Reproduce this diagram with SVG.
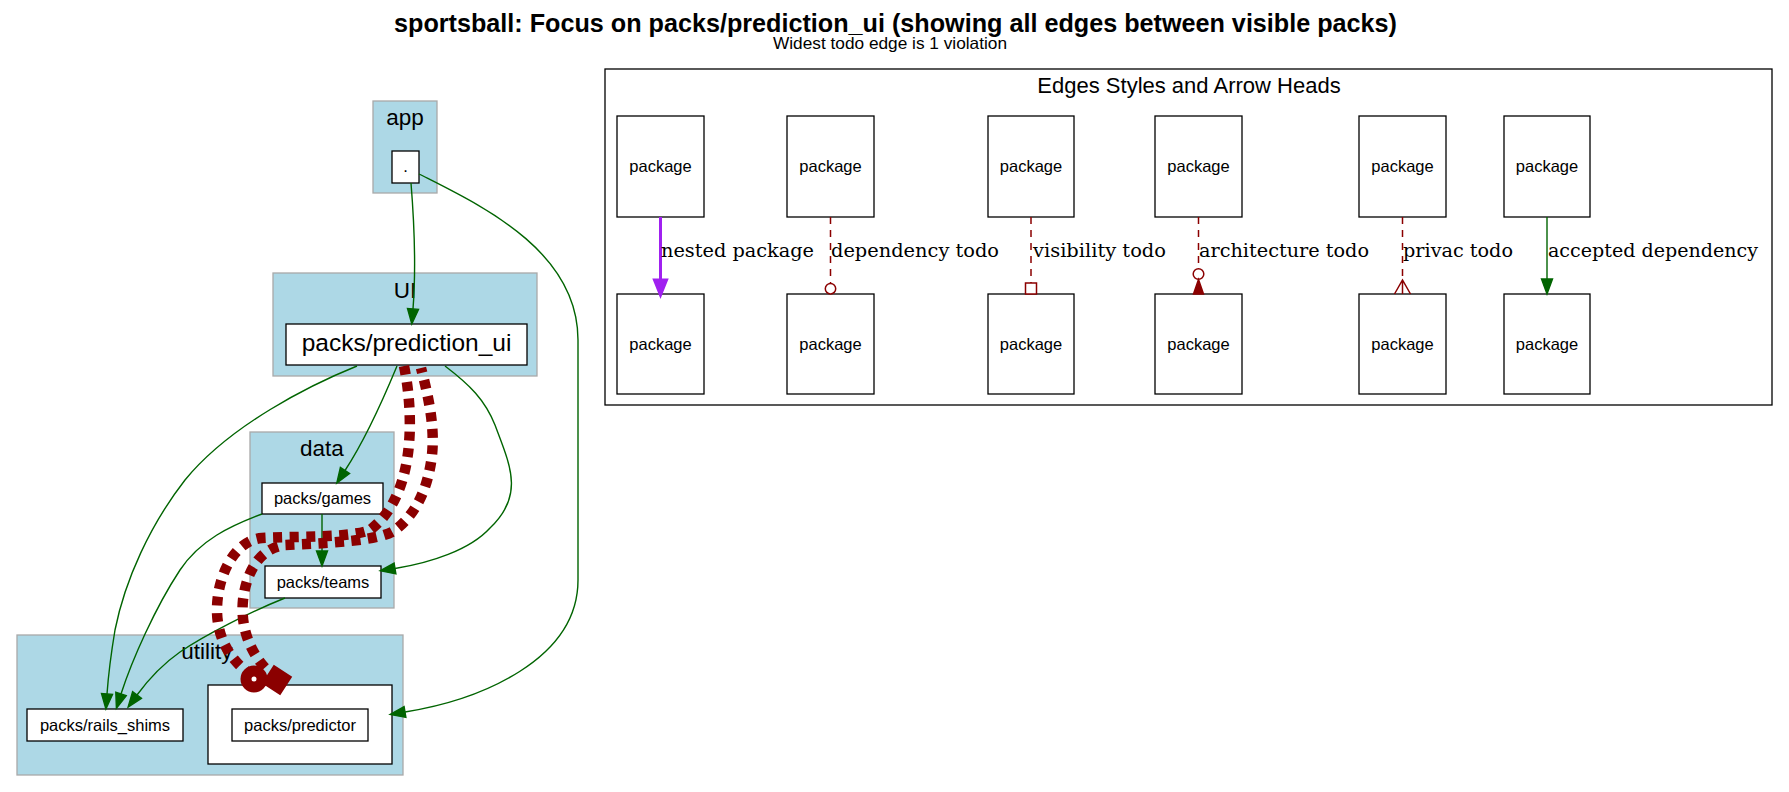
<svg xmlns="http://www.w3.org/2000/svg" width="1789" height="792" viewBox="0 0 1789 792">
<style>
.bg{fill:#ffffff}
.cl{fill:#add8e6;stroke:#a9a9a9;stroke-width:1.3}
.wbox{fill:#ffffff;stroke:#000000;stroke-width:1.3}
.node{fill:#ffffff;stroke:#000000;stroke-width:1.3}
.t{font-family:"Liberation Sans",Arial,sans-serif;fill:#000000}
.cll{font-size:22.5px;text-anchor:middle}
.nl{font-size:16.5px;text-anchor:middle}
.el{font-family:"DejaVu Serif","Liberation Serif",serif;font-size:19.4px;fill:#000000}
.g{fill:none;stroke:#006400;stroke-width:1.4}
.gh{fill:#006400;stroke:#006400;stroke-width:1.4}
.td{fill:none;stroke:#8b0000;stroke-width:1.5;stroke-dasharray:7,6}
.th{fill:#ffffff;stroke:#8b0000;stroke-width:1.5}
.thick{fill:none;stroke:#8b0000;stroke-width:10.5;stroke-dasharray:9,7.5}
</style>
<rect class="bg" x="0" y="0" width="1789" height="792"/>
<text class="t" x="394" y="32" font-size="25" font-weight="bold" textLength="1003" lengthAdjust="spacingAndGlyphs">sportsball: Focus on packs/prediction_ui (showing all edges between visible packs)</text>
<text class="t" x="773" y="49" font-size="16.5" textLength="234" lengthAdjust="spacingAndGlyphs">Widest todo edge is 1 violation</text>

<g id="cluster_app">
<rect class="cl" x="373" y="101" width="64" height="92"/>
<text class="t cll" x="405" y="125">app</text>
</g>
<g id="cluster_UI">
<rect class="cl" x="273" y="273" width="264" height="103"/>
<text class="t cll" x="405" y="298">UI</text>
</g>
<g id="cluster_data">
<rect class="cl" x="250" y="432" width="144" height="176"/>
<text class="t cll" x="322" y="456">data</text>
</g>
<g id="cluster_utility">
<rect class="cl" x="17" y="635" width="386" height="140"/>
<text class="t cll" x="207" y="659">utility</text>
<rect class="wbox" x="208" y="685" width="184" height="79"/>
</g>

<g id="node_app_root">
<rect class="node" x="392" y="151" width="27" height="32"/>
<text class="t nl" x="405.5" y="172">.</text>
</g>
<g id="node_prediction_ui">
<rect class="node" x="286" y="324" width="241" height="41"/>
<text class="t" x="406.5" y="351" font-size="24.5" text-anchor="middle">packs/prediction_ui</text>
</g>
<g id="node_games">
<rect class="node" x="262" y="483" width="121" height="31"/>
<text class="t nl" x="322.5" y="504">packs/games</text>
</g>
<g id="node_teams">
<rect class="node" x="265" y="566" width="116" height="32"/>
<text class="t nl" x="323" y="587.5">packs/teams</text>
</g>
<g id="node_rails_shims">
<rect class="node" x="27" y="709" width="156" height="32"/>
<text class="t nl" x="105" y="731">packs/rails_shims</text>
</g>
<g id="node_predictor">
<rect class="node" x="232" y="709" width="136" height="32"/>
<text class="t nl" x="300" y="731">packs/predictor</text>
</g>

<g id="connectors">
<path class="g" d="M411,183 C414,220 416,270 413,309"/>
<polygon class="gh" points="418.5,309.4 411.8,324 407.5,308.6"/>
<path class="g" d="M419,174 C480,205 578,250 578,340 L578,580 C578,660 480,700 405,712"/>
<polygon class="gh" points="405.9,717.4 390.2,714.4 404.1,706.6"/>
<path class="g" d="M397,366 C385,395 365,440 345,470.5"/>
<polygon class="gh" points="349.6,473.5 336.8,483 340.4,467.5"/>
<path class="g" d="M445,366 C470,385 485,400 495,425 C510,465 525,495 490,528 C470,550 430,563 395,568.5"/>
<polygon class="gh" points="395.9,573.9 380.2,570.8 394.1,563.1"/>
<path class="g" d="M357,366 C310,385 230,425 185,480 C150,525 125,580 115,630 C110,660 108,680 107,694"/>
<polygon class="gh" points="112.5,694.4 105.9,709 101.5,693.6"/>
<path class="g" d="M262,514 C230,526 200,540 180,570 C155,608 132,660 121,694"/>
<polygon class="gh" points="126.2,695.7 116.4,708.3 115.8,692.3"/>
<path class="g" d="M285,598 C250,612 205,635 180,652 C160,666 148,680 137,695"/>
<polygon class="gh" points="141.4,698.3 128.1,707.1 132.6,691.7"/>
<path class="g" d="M322,514 L322,551"/>
<polygon class="gh" points="327.5,551 322,566 316.5,551"/>

<path class="thick" d="M404,366 C410,395 412,430 407,460 C402,490 390,515 370,530 C350,538 300,536 262,538 C235,540 217,575 217,610 C217,640 232,660 246,671"/>
<circle cx="254" cy="679" r="8" fill="#ffffff" stroke="#8b0000" stroke-width="11"/>
<path class="thick" stroke-dashoffset="4" d="M421,368 C428,395 435,425 432,455 C428,490 415,515 395,530 C380,541 330,543 285,545 C262,548 247,568 243,600 C240,630 252,655 268,671"/>
<rect x="271" y="674" width="12" height="12" fill="#8b0000" stroke="#8b0000" stroke-width="10" transform="rotate(33 277 680)"/>
</g>

<g id="legend">
<rect class="wbox" x="605" y="69" width="1167" height="336"/>
<text class="t" x="1189" y="93" font-size="22" text-anchor="middle">Edges Styles and Arrow Heads</text>
</g>
<g id="legend_nodes">
<g id="lg_n1t"><rect class="node" x="617" y="116" width="87" height="101"/><text class="t nl" x="660.5" y="172">package</text></g>
<g id="lg_n1b"><rect class="node" x="617" y="294" width="87" height="100"/><text class="t nl" x="660.5" y="350">package</text></g>
<g id="lg_n2t"><rect class="node" x="787" y="116" width="87" height="101"/><text class="t nl" x="830.5" y="172">package</text></g>
<g id="lg_n2b"><rect class="node" x="787" y="294" width="87" height="100"/><text class="t nl" x="830.5" y="350">package</text></g>
<g id="lg_n3t"><rect class="node" x="988" y="116" width="86" height="101"/><text class="t nl" x="1031" y="172">package</text></g>
<g id="lg_n3b"><rect class="node" x="988" y="294" width="86" height="100"/><text class="t nl" x="1031" y="350">package</text></g>
<g id="lg_n4t"><rect class="node" x="1155" y="116" width="87" height="101"/><text class="t nl" x="1198.5" y="172">package</text></g>
<g id="lg_n4b"><rect class="node" x="1155" y="294" width="87" height="100"/><text class="t nl" x="1198.5" y="350">package</text></g>
<g id="lg_n5t"><rect class="node" x="1359" y="116" width="87" height="101"/><text class="t nl" x="1402.5" y="172">package</text></g>
<g id="lg_n5b"><rect class="node" x="1359" y="294" width="87" height="100"/><text class="t nl" x="1402.5" y="350">package</text></g>
<g id="lg_n6t"><rect class="node" x="1504" y="116" width="86" height="101"/><text class="t nl" x="1547" y="172">package</text></g>
<g id="lg_n6b"><rect class="node" x="1504" y="294" width="86" height="100"/><text class="t nl" x="1547" y="350">package</text></g>
</g>
<g id="legend_connectors">
<path d="M660.5,217 L660.5,280" fill="none" stroke="#a020f0" stroke-width="3"/>
<polygon points="654.5,280 666.5,280 660.5,295" fill="#a020f0" stroke="#a020f0" stroke-width="3"/>
<text class="el" x="661" y="257" textLength="153" lengthAdjust="spacingAndGlyphs">nested package</text>

<path class="td" d="M830.5,217 L830.5,283.5"/>
<circle class="th" cx="830.5" cy="288.7" r="5.2"/>
<text class="el" x="831" y="257" textLength="168" lengthAdjust="spacingAndGlyphs">dependency todo</text>

<path class="td" d="M1031,217 L1031,283"/>
<rect class="th" x="1025.5" y="283" width="11" height="11"/>
<text class="el" x="1033" y="257" textLength="133" lengthAdjust="spacingAndGlyphs">visibility todo</text>

<path class="td" d="M1198.5,217 L1198.5,268.5"/>
<circle class="th" cx="1198.5" cy="274" r="5.3"/>
<polygon points="1193.5,294 1203.5,294 1198.5,279.5" fill="#8b0000" stroke="#8b0000" stroke-width="1.5"/>
<text class="el" x="1199" y="257" textLength="170" lengthAdjust="spacingAndGlyphs">architecture todo</text>

<path class="td" d="M1402.5,217 L1402.5,280"/>
<path d="M1394.5,294 L1402.5,280 L1410.5,294 M1402.5,280 L1402.5,294" fill="none" stroke="#8b0000" stroke-width="1.5"/>
<text class="el" x="1403" y="257" textLength="110" lengthAdjust="spacingAndGlyphs">privac todo</text>

<path class="g" d="M1547,217 L1547,279"/>
<polygon class="gh" points="1552.5,279 1547,294 1541.5,279"/>
<text class="el" x="1548" y="257" textLength="210" lengthAdjust="spacingAndGlyphs">accepted dependency</text>
</g>
</svg>
